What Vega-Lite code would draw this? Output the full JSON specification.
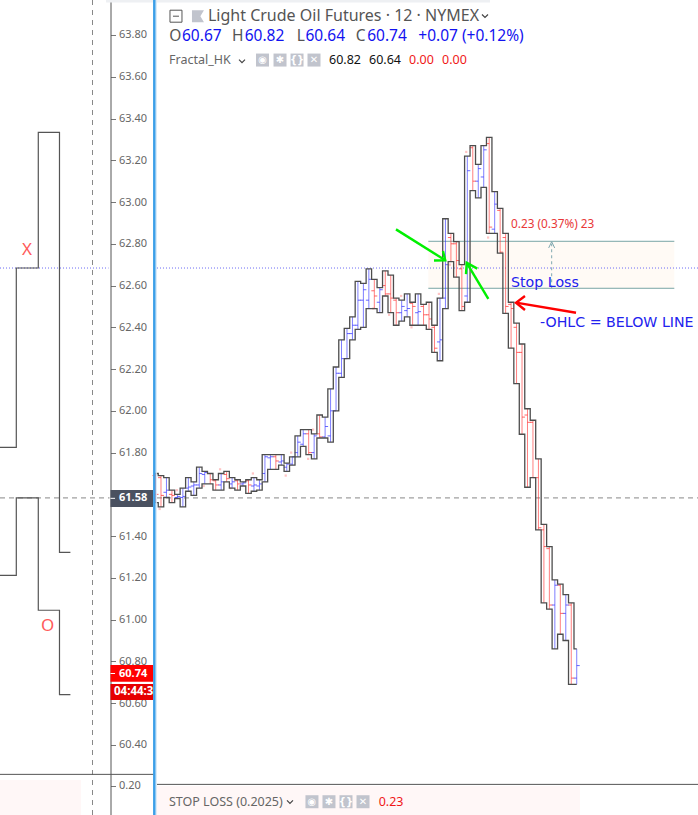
{"$schema":"https://vega.github.io/schema/vega-lite/v6.json","width":698,"height":815,"padding":0,"autosize":{"type":"none"},"background":"white","view":{"stroke":null},"config":{"text":{"font":"Noto Sans"},"axis":{"labelFont":"Noto Sans"}},
"datasets":{"bars":[
{"i":-1,"hi":61.70,"lo":61.56,"o":61.69,"c":61.60,"dir":"down"},
{"i":0,"hi":61.69,"lo":61.54,"o":61.68,"c":61.595,"dir":"down"},
{"i":1,"hi":61.68,"lo":61.585,"o":61.61,"c":61.62,"dir":"up"},
{"i":2,"hi":61.62,"lo":61.56,"o":61.60,"c":61.595,"dir":"down"},
{"i":3,"hi":61.60,"lo":61.58,"o":61.585,"c":61.59,"dir":"up"},
{"i":4,"hi":61.63,"lo":61.54,"o":61.585,"c":61.59,"dir":"up"},
{"i":5,"hi":61.68,"lo":61.615,"o":61.63,"c":61.635,"dir":"up"},
{"i":6,"hi":61.66,"lo":61.595,"o":61.64,"c":61.645,"dir":"up"},
{"i":7,"hi":61.73,"lo":61.63,"o":61.645,"c":61.70,"dir":"up"},
{"i":8,"hi":61.71,"lo":61.65,"o":61.695,"c":61.705,"dir":"up"},
{"i":9,"hi":61.70,"lo":61.65,"o":61.70,"c":61.67,"dir":"down"},
{"i":10,"hi":61.67,"lo":61.62,"o":61.665,"c":61.645,"dir":"down"},
{"i":11,"hi":61.70,"lo":61.62,"o":61.645,"c":61.66,"dir":"up"},
{"i":12,"hi":61.71,"lo":61.66,"o":61.695,"c":61.675,"dir":"down"},
{"i":13,"hi":61.68,"lo":61.63,"o":61.65,"c":61.66,"dir":"up"},
{"i":14,"hi":61.67,"lo":61.62,"o":61.665,"c":61.65,"dir":"down"},
{"i":15,"hi":61.66,"lo":61.64,"o":61.65,"c":61.655,"dir":"up"},
{"i":16,"hi":61.67,"lo":61.605,"o":61.665,"c":61.645,"dir":"down"},
{"i":17,"hi":61.68,"lo":61.615,"o":61.64,"c":61.645,"dir":"up"},
{"i":18,"hi":61.67,"lo":61.62,"o":61.64,"c":61.65,"dir":"up"},
{"i":19,"hi":61.79,"lo":61.66,"o":61.70,"c":61.78,"dir":"up"},
{"i":20,"hi":61.79,"lo":61.72,"o":61.775,"c":61.78,"dir":"up"},
{"i":21,"hi":61.79,"lo":61.72,"o":61.78,"c":61.76,"dir":"down"},
{"i":22,"hi":61.79,"lo":61.74,"o":61.755,"c":61.76,"dir":"up"},
{"i":23,"hi":61.75,"lo":61.71,"o":61.73,"c":61.745,"dir":"up"},
{"i":24,"hi":61.78,"lo":61.74,"o":61.745,"c":61.78,"dir":"up"},
{"i":25,"hi":61.88,"lo":61.78,"o":61.80,"c":61.85,"dir":"up"},
{"i":26,"hi":61.91,"lo":61.83,"o":61.84,"c":61.89,"dir":"up"},
{"i":27,"hi":61.91,"lo":61.79,"o":61.89,"c":61.80,"dir":"down"},
{"i":28,"hi":61.89,"lo":61.77,"o":61.80,"c":61.88,"dir":"up"},
{"i":29,"hi":61.98,"lo":61.87,"o":61.89,"c":61.875,"dir":"down"},
{"i":30,"hi":61.97,"lo":61.87,"o":61.875,"c":61.925,"dir":"up"},
{"i":31,"hi":62.105,"lo":61.85,"o":61.88,"c":62.00,"dir":"up"},
{"i":32,"hi":62.21,"lo":62.00,"o":62.00,"c":62.18,"dir":"up"},
{"i":33,"hi":62.34,"lo":62.16,"o":62.18,"c":62.25,"dir":"up"},
{"i":34,"hi":62.395,"lo":62.25,"o":62.25,"c":62.37,"dir":"up"},
{"i":35,"hi":62.45,"lo":62.34,"o":62.37,"c":62.41,"dir":"up"},
{"i":36,"hi":62.62,"lo":62.39,"o":62.41,"c":62.53,"dir":"up"},
{"i":37,"hi":62.61,"lo":62.40,"o":62.53,"c":62.58,"dir":"up"},
{"i":38,"hi":62.68,"lo":62.49,"o":62.53,"c":62.63,"dir":"up"},
{"i":39,"hi":62.63,"lo":62.49,"o":62.575,"c":62.55,"dir":"down"},
{"i":40,"hi":62.59,"lo":62.47,"o":62.52,"c":62.58,"dir":"up"},
{"i":41,"hi":62.67,"lo":62.55,"o":62.60,"c":62.56,"dir":"down"},
{"i":42,"hi":62.65,"lo":62.47,"o":62.56,"c":62.54,"dir":"down"},
{"i":43,"hi":62.54,"lo":62.41,"o":62.53,"c":62.47,"dir":"down"},
{"i":44,"hi":62.53,"lo":62.43,"o":62.47,"c":62.50,"dir":"up"},
{"i":45,"hi":62.56,"lo":62.45,"o":62.48,"c":62.49,"dir":"up"},
{"i":46,"hi":62.52,"lo":62.41,"o":62.515,"c":62.50,"dir":"down"},
{"i":47,"hi":62.56,"lo":62.41,"o":62.47,"c":62.475,"dir":"up"},
{"i":48,"hi":62.51,"lo":62.41,"o":62.50,"c":62.46,"dir":"down"},
{"i":49,"hi":62.52,"lo":62.39,"o":62.46,"c":62.44,"dir":"down"},
{"i":50,"hi":62.41,"lo":62.28,"o":62.40,"c":62.30,"dir":"down"},
{"i":51,"hi":62.54,"lo":62.24,"o":62.33,"c":62.34,"dir":"up"},
{"i":52,"hi":62.92,"lo":62.49,"o":62.54,"c":62.70,"dir":"up"},
{"i":53,"hi":62.85,"lo":62.715,"o":62.83,"c":62.80,"dir":"down"},
{"i":54,"hi":62.81,"lo":62.64,"o":62.80,"c":62.72,"dir":"down"},
{"i":55,"hi":62.70,"lo":62.48,"o":62.68,"c":62.50,"dir":"down"},
{"i":56,"hi":63.22,"lo":62.52,"o":62.55,"c":63.15,"dir":"up"},
{"i":57,"hi":63.27,"lo":63.055,"o":63.26,"c":63.10,"dir":"down"},
{"i":58,"hi":63.18,"lo":63.02,"o":63.10,"c":63.16,"dir":"up"},
{"i":59,"hi":63.27,"lo":63.07,"o":63.12,"c":63.25,"dir":"up"},
{"i":60,"hi":63.31,"lo":62.85,"o":63.28,"c":62.88,"dir":"down"},
{"i":61,"hi":63.05,"lo":62.85,"o":62.87,"c":62.99,"dir":"up"},
{"i":62,"hi":62.97,"lo":62.755,"o":62.96,"c":62.76,"dir":"down"},
{"i":63,"hi":62.85,"lo":62.467,"o":62.83,"c":62.50,"dir":"down"},
{"i":64,"hi":62.52,"lo":62.30,"o":62.51,"c":62.49,"dir":"down"},
{"i":65,"hi":62.42,"lo":62.13,"o":62.40,"c":62.28,"dir":"down"},
{"i":66,"hi":62.32,"lo":61.888,"o":62.28,"c":61.97,"dir":"down"},
{"i":67,"hi":62.01,"lo":61.634,"o":61.98,"c":61.945,"dir":"down"},
{"i":68,"hi":61.955,"lo":61.68,"o":61.945,"c":61.68,"dir":"down"},
{"i":69,"hi":61.77,"lo":61.43,"o":61.68,"c":61.44,"dir":"down"},
{"i":70,"hi":61.456,"lo":61.08,"o":61.43,"c":61.35,"dir":"down"},
{"i":71,"hi":61.35,"lo":61.05,"o":61.34,"c":61.07,"dir":"down"},
{"i":72,"hi":61.19,"lo":60.86,"o":61.07,"c":61.165,"dir":"up"},
{"i":73,"hi":61.17,"lo":60.93,"o":61.165,"c":61.03,"dir":"down"},
{"i":74,"hi":61.12,"lo":60.90,"o":61.03,"c":61.07,"dir":"up"},
{"i":75,"hi":61.08,"lo":60.69,"o":61.07,"c":60.72,"dir":"down"},
{"i":76,"hi":60.86,"lo":60.69,"o":60.72,"c":60.78,"dir":"up"}
]},
"encoding":{"x":{"field":"i","type":"quantitative","axis":null,"scale":{"domain":[-29.43,98.17],"nice":false,"zero":false}},"y":{"field":"p","type":"quantitative","scale":{"domain":[60.0644,63.9676],"nice":false,"zero":false},"axis":{"orient":"right","offset":-587.5,"title":null,"grid":false,"values":[60.205,60.4,60.6,60.8,61,61.2,61.4,61.8,62,62.2,62.4,62.6,62.8,63,63.2,63.4,63.6,63.8],"labelExpr":"datum.value<60.3?'0.20':format(datum.value,'.2f')","domainColor":"#555555","tickColor":"#777777","tickSize":5,"labelPadding":3,"labelFontSize":11,"labelColor":"#666666","labelFlush":false,"labelOverlap":false,"domainWidth":1}}},
"layer":[
{"data":{"values":[{"i":48.87,"i2":93.84,"p":62.812,"p2":62.587}]},"mark":{"type":"rect","color":"#fffaf5"},"encoding":{"x2":{"field":"i2"},"y2":{"field":"p2"}}},
{"data":{"values":[{"i":-29.43,"i2":-14.63,"p":60.232,"p2":60.0644},{"i":-0.73,"i2":76.6,"p":60.203,"p2":60.0644}]},"mark":{"type":"rect","color":"#fff7f7"},"encoding":{"x2":{"field":"i2"},"y2":{"field":"p2"}}},
{"data":{"values":[{"i":-29.43,"i2":-9.6,"p":62.684},{"i":-0.73,"i2":98.17,"p":62.684}]},"mark":{"type":"rule","color":"#6a6af5","strokeDash":[1,2],"strokeWidth":1},"encoding":{"x2":{"field":"i2"}}},
{"data":{"values":[{"i":-29.43,"i2":-9.4,"p":61.583},{"i":-0.73,"i2":98.17,"p":61.583}]},"mark":{"type":"rule","color":"#888888","strokeDash":[5,4],"strokeWidth":1},"encoding":{"x2":{"field":"i2"}}},
{"data":{"values":[{"i":-12.52,"p":63.9676,"p2":60.0644}]},"mark":{"type":"rule","color":"#888888","strokeDash":[5,5],"strokeWidth":1},"encoding":{"y2":{"field":"p2"}}},
{"data":{"values":[{"i":48.87,"i2":93.84,"p":62.812},{"i":48.87,"i2":93.84,"p":62.587}]},"mark":{"type":"rule","color":"#78a5a5","strokeWidth":1},"encoding":{"x2":{"field":"i2"}}},
{"data":{"values":[{"i":-0.25,"p":61.53},{"i":2.9,"p":61.62},{"i":7.8,"p":61.64},{"i":10.8,"p":61.72},{"i":12.7,"p":61.63},{"i":16.8,"p":61.70},{"i":22.8,"p":61.69},{"i":23.8,"p":61.80},{"i":26.9,"p":61.77},{"i":27.8,"p":61.91},{"i":38.8,"p":62.49},{"i":41.7,"p":62.46},{"i":43.9,"p":62.55},{"i":45.8,"p":62.40},{"i":50.8,"p":62.56},{"i":52.8,"p":62.70},{"i":55.8,"p":63.24},{"i":59.8,"p":62.83}]},"mark":{"type":"point","shape":"square","filled":true,"size":5,"color":"#ffc4c4","opacity":1}},
{"data":{"name":"bars"},"transform":[{"fold":["hi"],"as":["k","p"]}],"mark":{"type":"rule","strokeWidth":1,"opacity":0.6},"encoding":{"y2":{"field":"lo"},"color":{"field":"dir","type":"nominal","legend":null,"scale":{"domain":["down","up"],"range":["#ff2a2a","#2a2aff"]}}}},
{"data":{"name":"bars"},"transform":[{"fold":["o"],"as":["k","p"]}],"mark":{"type":"point","shape":"M-1,0L0,0","size":36,"filled":false,"strokeWidth":1,"opacity":0.7},"encoding":{"color":{"field":"dir","type":"nominal","legend":null,"scale":{"domain":["down","up"],"range":["#ff2a2a","#2a2aff"]}}}},
{"data":{"name":"bars"},"transform":[{"fold":["c"],"as":["k","p"]}],"mark":{"type":"point","shape":"M0,0L1,0","size":36,"filled":false,"strokeWidth":1,"opacity":0.7},"encoding":{"color":{"field":"dir","type":"nominal","legend":null,"scale":{"domain":["down","up"],"range":["#ff2a2a","#2a2aff"]}}}},
{"data":{"name":"bars"},"transform":[{"fold":["hi","lo"],"as":["side","p"]}],"mark":{"type":"line","interpolate":"step","color":"#4d4d4d","strokeWidth":1.3},"encoding":{"detail":{"field":"side"}}},
{"data":{"values":[{"s":"hi","i":-32.7,"p":61.825},{"s":"hi","i":-28.59,"p":61.825},{"s":"hi","i":-24.31,"p":62.684},{"s":"hi","i":-20.55,"p":63.334},{"s":"hi","i":-16.56,"p":61.322},{"s":"lo","i":-32.7,"p":61.212},{"s":"lo","i":-28.59,"p":61.212},{"s":"lo","i":-24.31,"p":61.583},{"s":"lo","i":-20.55,"p":61.045},{"s":"lo","i":-16.56,"p":60.641}]},"mark":{"type":"line","interpolate":"step","color":"#555555","strokeWidth":1.2,"clip":true},"encoding":{"detail":{"field":"s"}}},
{"data":{"values":[{"k":0,"i":71.42,"p":62.587},{"k":1,"i":71.42,"p":62.80}]},"mark":{"type":"line","color":"#7fa8b0","strokeWidth":1,"strokeDash":[3,3]},"encoding":{"order":{"field":"k"}}},
{"data":{"values":[{"k":0,"i":70.87,"p":62.78},{"k":1,"i":71.42,"p":62.81},{"k":2,"i":71.97,"p":62.78}]},"mark":{"type":"line","color":"#7fa8b0","strokeWidth":1},"encoding":{"order":{"field":"k"}}},
{"data":{"values":[{"a":"a1","k":0,"i":42.96,"p":62.869},{"a":"a1","k":1,"i":51.97,"p":62.721},{"a":"a1h","k":0,"i":49.91,"p":62.72},{"a":"a1h","k":1,"i":51.97,"p":62.721},{"a":"a1h","k":2,"i":51.55,"p":62.765},{"a":"a2","k":0,"i":59.84,"p":62.536},{"a":"a2","k":1,"i":55.89,"p":62.709},{"a":"a2h","k":0,"i":55.76,"p":62.655},{"a":"a2h","k":1,"i":55.89,"p":62.709},{"a":"a2h","k":2,"i":57.82,"p":62.681}]},"mark":{"type":"line","color":"#00f000","strokeWidth":2.4},"encoding":{"detail":{"field":"a"},"order":{"field":"k"}}},
{"data":{"values":[{"a":"r","k":0,"i":75.87,"p":62.47},{"a":"r","k":1,"i":64.9,"p":62.518},{"a":"rh","k":0,"i":66.54,"p":62.55},{"a":"rh","k":1,"i":64.9,"p":62.518},{"a":"rh","k":2,"i":66.54,"p":62.483}]},"mark":{"type":"line","color":"#ff0000","strokeWidth":2.4},"encoding":{"detail":{"field":"a"},"order":{"field":"k"}}},
{"data":{"values":[{"i":-29.43,"i2":-1.2,"p":60.259},{"i":-0.73,"i2":98.17,"p":60.211}]},"mark":{"type":"rule","color":"#555555","strokeWidth":1},"encoding":{"x2":{"field":"i2"}}},
{"data":{"values":[{"i":-10.05,"i2":60.15,"p":63.963}]},"mark":{"type":"rule","color":"#eef0f3","strokeWidth":3},"encoding":{"x2":{"field":"i2"}}},
{"data":{"values":[{"i":-9.23,"i2":-1.46,"p":60.783,"p2":60.703}]},"mark":{"type":"rect","color":"#ff0000"},"encoding":{"x2":{"field":"i2"},"y2":{"field":"p2"}}},
{"data":{"values":[{"i":-9.23,"i2":-1.46,"p":60.692,"p2":60.615}]},"mark":{"type":"rect","color":"#e60000"},"encoding":{"x2":{"field":"i2"},"y2":{"field":"p2"}}},
{"data":{"values":[{"i":-9.23,"i2":-1.46,"p":61.621,"p2":61.539}]},"mark":{"type":"rect","color":"#4a5160"},"encoding":{"x2":{"field":"i2"},"y2":{"field":"p2"}}},
{"data":{"values":[{"i":-9.23,"i2":-8.4,"p":60.742},{"i":-9.23,"i2":-8.4,"p":61.581}]},"mark":{"type":"rule","color":"#ffffff","strokeWidth":1},"encoding":{"x2":{"field":"i2"}}},
{"data":{"values":[{"i":-7.68,"p":60.742,"t":"60.74"},{"i":-7.68,"p":61.581,"t":"61.58"}]},"mark":{"type":"text","align":"left","baseline":"middle","color":"#ffffff","fontWeight":"bold","fontSize":11},"encoding":{"text":{"field":"t"}}},
{"data":{"values":[{"i":-8.59,"p":60.653,"t":"04:44:30"}]},"mark":{"type":"text","align":"left","baseline":"middle","color":"#ffffff","fontWeight":"bold","fontSize":11.5},"encoding":{"text":{"field":"t"}}},
{"data":{"values":[{"i":-1.46,"i2":2.5,"p":60.70,"p2":60.61}]},"mark":{"type":"rect","color":"#ffffff"},"encoding":{"x2":{"field":"i2"},"y2":{"field":"p2"}}},
{"data":{"values":[{"i":-0.86,"p":63.9676,"p2":60.0644}]},"mark":{"type":"rule","color":"#d5e9f9","strokeWidth":1.2},"encoding":{"y2":{"field":"p2"}}},
{"data":{"values":[{"i":-1.22,"p":63.9676,"p2":60.0644}]},"mark":{"type":"rule","color":"#3c9fe8","strokeWidth":2.5},"encoding":{"y2":{"field":"p2"}}},
{"data":{"values":[{"i":8.59,"p":63.891,"t":"Light Crude Oil Futures · 12 · NYMEX"}]},"mark":{"type":"text","align":"left","baseline":"middle","color":"#555555","fontSize":16},"encoding":{"text":{"field":"t"}}},
{"data":{"values":[{"i":1.5,"p":63.797,"t":"O"},{"i":12.98,"p":63.797,"t":"H"},{"i":24.81,"p":63.797,"t":"L"},{"i":35.6,"p":63.797,"t":"C"}]},"mark":{"type":"text","align":"left","baseline":"middle","color":"#555555","fontSize":15.5},"encoding":{"text":{"field":"t"}}},
{"data":{"values":[{"i":3.84,"p":63.797,"t":"60.67"},{"i":15.3,"p":63.797,"t":"60.82"},{"i":26.4,"p":63.797,"t":"60.64"},{"i":37.7,"p":63.797,"t":"60.74"},{"i":47.04,"p":63.797,"t":"+0.07 (+0.12%)"}]},"mark":{"type":"text","align":"left","baseline":"middle","color":"#1212f0","fontSize":15.5},"encoding":{"text":{"field":"t"}}},
{"data":{"values":[{"i":1.46,"p":63.68,"t":"Fractal_HK"},{"i":1.46,"p":60.128,"t":"STOP LOSS (0.2025)"}]},"mark":{"type":"text","align":"left","baseline":"middle","color":"#666666","fontSize":12.5},"encoding":{"text":{"field":"t"}}},
{"data":{"values":[{"i":30.71,"p":63.68,"t":"60.82"},{"i":38.03,"p":63.68,"t":"60.64"}]},"mark":{"type":"text","align":"left","baseline":"middle","color":"#111111","fontSize":12.5},"encoding":{"text":{"field":"t"}}},
{"data":{"values":[{"i":45.34,"p":63.68,"t":"0.00"},{"i":51.37,"p":63.68,"t":"0.00"},{"i":39.8,"p":60.128,"t":"0.23"}]},"mark":{"type":"text","align":"left","baseline":"middle","color":"#f01818","fontSize":12.5},"encoding":{"text":{"field":"t"}}},
{"data":{"values":[{"i":63.98,"p":62.895,"t":"0.23 (0.37%) 23"}]},"mark":{"type":"text","align":"left","baseline":"middle","color":"#e83838","fontSize":11.8},"encoding":{"text":{"field":"t"}}},
{"data":{"values":[{"i":63.98,"p":62.612,"t":"Stop Loss"},{"i":69.29,"p":62.421,"t":"-OHLC = BELOW LINE"}]},"mark":{"type":"text","align":"left","baseline":"middle","color":"#2222ee","fontSize":14.2,"font":"DejaVu Sans"},"encoding":{"text":{"field":"t"}}},
{"data":{"values":[{"i":-24.5,"p":62.77,"t":"X"},{"i":-20.71,"p":60.971,"t":"O"}]},"mark":{"type":"text","align":"center","baseline":"middle","color":"#ff5a5a","fontSize":17},"encoding":{"text":{"field":"t"}}},
{"data":{"values":[{"i":18.56,"p":63.68},{"i":21.76,"p":63.68},{"i":24.87,"p":63.68},{"i":27.97,"p":63.68},{"i":27.6,"p":60.128},{"i":30.71,"p":60.128},{"i":33.82,"p":60.128},{"i":36.93,"p":60.128}]},"mark":{"type":"point","shape":"square","filled":true,"size":169,"color":"#c1c4cd","opacity":1}},
{"data":{"values":[{"i":18.56,"p":63.68,"t":"◉"},{"i":21.76,"p":63.68,"t":"✱"},{"i":24.87,"p":63.68,"t":"{}"},{"i":27.97,"p":63.68,"t":"✕"},{"i":27.6,"p":60.128,"t":"◉"},{"i":30.71,"p":60.128,"t":"✱"},{"i":33.82,"p":60.128,"t":"{}"},{"i":36.93,"p":60.128,"t":"✕"}]},"mark":{"type":"text","align":"center","baseline":"middle","color":"#ffffff","fontSize":10,"fontWeight":"bold","font":"DejaVu Sans"},"encoding":{"text":{"field":"t"}}},
{"data":{"values":[{"i":2.74,"p":63.89}]},"mark":{"type":"point","shape":"M-1,-1L1,-1L1,1L-1,1ZM-0.5,0L0.5,0","size":144,"filled":false,"color":"#555555","strokeWidth":1,"opacity":1}},
{"data":{"values":[{"i":6.76,"p":63.89}]},"mark":{"type":"point","shape":"M-1,-1L1,-1L0.4,0L1,1L-1,1Z","size":144,"filled":true,"color":"#c1c4cd","opacity":1}},
{"data":{"values":[{"i":59.23,"p":63.891},{"i":14.81,"p":63.675},{"i":23.58,"p":60.127}]},"mark":{"type":"point","shape":"M-1,-0.5L0,0.5L1,-0.5","size":36,"filled":false,"color":"#444444","strokeWidth":1.2,"opacity":1}}
]}
